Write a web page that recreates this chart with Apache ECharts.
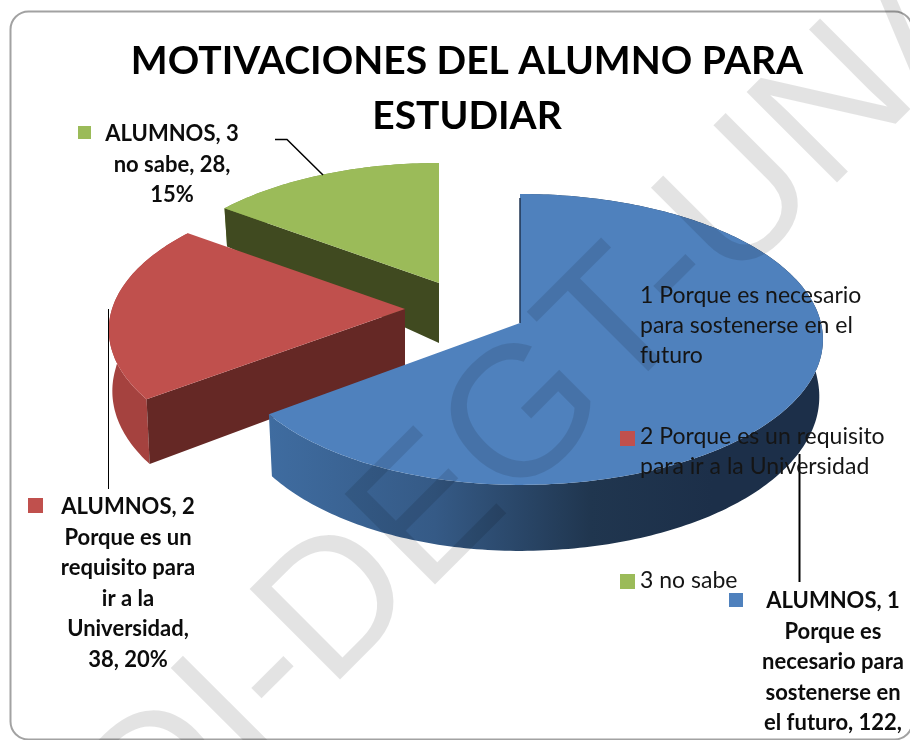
<!DOCTYPE html>
<html>
<head>
<meta charset="utf-8">
<title>Motivaciones del alumno para estudiar</title>
<script src="https://cdn.jsdelivr.net/npm/echarts@6/dist/echarts.min.js"></script>
<style>
  html, body { margin: 0; padding: 0; background: #fff; }
  #chart { width: 910px; height: 740px; }
</style>
</head>
<body>
<div id="chart"></div>
<script>
var categories = ['1 Porque es necesario para sostenerse en el futuro', '2 Porque es un requisito para ir a la Universidad', '3 no sabe'];
var alumnos = [122, 38, 28];
var legendLines = [
  ['1 Porque es necesario', 'para sostenerse en el', 'futuro'],
  ['2 Porque es un requisito', 'para ir a la Universidad'],
  ['3 no sabe']
];
var labelLines = [
  ['ALUMNOS, 1', 'Porque es', 'necesario para', 'sostenerse en', 'el futuro, 122,'],
  ['ALUMNOS, 2', 'Porque es un', 'requisito para', 'ir a la', 'Universidad,', '38, 20%'],
  ['ALUMNOS, 3', 'no sabe, 28,', '15%']
];
var colors = ['#4F81BD', '#C0504D', '#9BBB59'];
var wallColors = ['#1f3552', '#652825', '#404A20'];
var sideColors = ['#3f6ca0', '#A5423F', '#7d9a45'];

// each slice is pulled out on its own, so each has its own apex and perspective
var sliceView = [
  { ax: 520, ay: 323, rx: 301, rxLeft: 291, ry: 143.6, k: 0.113, dMid: 56, dFront: 10, dBack: 30 },
  { ax: 405, ay: 309, rx: 293, rxLeft: 293, ry: 139, k: 0.147, dMid: 60, dFront: 8, dBack: 30 },
  { ax: 439, ay: 283, rx: 287, rxLeft: 287, ry: 135.6, k: 0.13, dMid: 60, dFront: 8, dBack: 37 }
];
var shrink = 0.988;
var total = alumnos.reduce(function (a, b) { return a + b; }, 0);

function topPoint(view, t) {
  var u = Math.sin(t), v = -Math.cos(t);
  var s = 1 / (1 - view.k * v);
  return [view.ax + (u < 0 ? view.rxLeft : view.rx) * u * s, view.ay + view.ry * v * s, v];
}
function bottomPoint(view, p) {
  var d = p[2] < 0 ? view.dMid + view.dBack * p[2] : view.dMid + view.dFront * p[2];
  return [view.ax + (p[0] - view.ax) * shrink, p[1] + d];
}

function renderSlice(params, api) {
  var idx = api.value(1);
  var view = sliceView[idx];
  var before = 0;
  for (var i = 0; i < idx; i++) before += alumnos[i];
  var t0 = before / total * Math.PI * 2;
  var t1 = (before + api.value(0)) / total * Math.PI * 2;

  var arc = [];
  var steps = Math.ceil((t1 - t0) / (Math.PI / 180));
  for (var n = 0; n <= steps; n++) {
    arc.push(topPoint(view, t0 + (t1 - t0) * n / steps));
  }
  var apex = [view.ax, view.ay, 0];
  var apexLow = bottomPoint(view, apex);
  var first = arc[0];

  var sideFill = sideColors[idx];
  if (idx === 0) {
    sideFill = new echarts.graphic.LinearGradient(0, 0, 1, 0, [
      { offset: 0, color: '#3f6ca0' },
      { offset: 0.3, color: '#355a86' },
      { offset: 0.58, color: '#20364f' },
      { offset: 0.8, color: '#1c2f49' },
      { offset: 1, color: '#1c2f49' }
    ]);
  }

  var arcXY = arc.map(function (p) { return [p[0], p[1]]; });
  var lowXY = arc.map(function (p) { return bottomPoint(view, p); }).reverse();
  var children = [
    { type: 'polygon', shape: { points: arcXY.concat(lowXY) }, style: { fill: sideFill } },
    { type: 'polygon', shape: { points: [[first[0], first[1]], [apex[0], apex[1]], apexLow, bottomPoint(view, first)] }, style: { fill: wallColors[idx] } },
    { type: 'polygon', shape: { points: arcXY.concat([[apex[0], apex[1]]]) }, style: { fill: colors[idx] } }
  ];
  if (idx === 0) {
    children.push({ type: 'polyline', shape: { points: [[first[0], first[1] + 4], [apex[0], apex[1]]] }, style: { stroke: '#1f3552', lineWidth: 1.5, fill: 'none' } });
  }
  return { type: 'group', children: children };
}

// draw back to front: green, red, blue
var series = [2, 1, 0].map(function (i) {
  return {
    name: categories[i],
    type: 'custom',
    coordinateSystem: 'none',
    renderItem: renderSlice,
    silent: true,
    data: [[alumnos[i], i]],
    z: 3 - i
  };
});

var font = 'Lato, "Open Sans", sans-serif';
var marks = [];

function addText(lines, x, y, lineStep, opts) {
  lines.forEach(function (line, i) {
    marks.push({
      type: 'text', z: 20,
      style: { text: line, x: x, y: y + lineStep * i, fill: opts.fill, font: opts.font, align: opts.align, verticalAlign: 'middle' }
    });
  });
}
function addSquare(x, y, w, color) {
  marks.push({ type: 'rect', z: 20, shape: { x: x, y: y, width: w, height: w }, style: { fill: color } });
}
function addLeader(points, width) {
  marks.push({ type: 'polyline', z: 19, shape: { points: points }, style: { stroke: '#000', lineWidth: width, fill: 'none' } });
}

// chart frame
marks.push({ type: 'rect', z: 0, shape: { x: 10.5, y: 11.5, width: 902, height: 728, r: 18 }, style: { fill: '#fff', stroke: '#a2a2a2', lineWidth: 2 } });

// legend
var legendFont = '23px ' + font;
addSquare(620, 289, 15, colors[0]);
addSquare(620, 431, 15, colors[1]);
addSquare(620, 574, 15, colors[2]);
addText(legendLines[0], 640, 296, 30, { fill: '#151515', font: legendFont, align: 'left' });
addText(legendLines[1], 640, 437, 30, { fill: '#151515', font: legendFont, align: 'left' });
addText(legendLines[2], 640, 581, 30, { fill: '#151515', font: legendFont, align: 'left' });

// data labels with leader lines
var labelFont = 'bold 22px ' + font;
addSquare(729, 593, 14, colors[0]);
addSquare(28, 498, 15, colors[1]);
addSquare(78, 126, 13, colors[2]);
addText(labelLines[0], 833, 601, 30.6, { fill: '#0c0c0c', font: labelFont, align: 'center' });
addText(labelLines[1], 128, 507, 30.5, { fill: '#0c0c0c', font: labelFont, align: 'center' });
addText(labelLines[2], 172, 134, 30.5, { fill: '#0c0c0c', font: labelFont, align: 'center' });
addLeader([[799.5, 454], [799.5, 582]], 2);
addLeader([[108.5, 309], [108.5, 489]], 1);
addLeader([[275, 139.5], [287, 139.5], [323, 175]], 1.5);

// watermark lies over everything
marks.push({
  type: 'text', z: 30, silent: true,
  x: 600, y: 347, rotation: Math.PI / 4,
  style: { text: 'DI-DEGT-UNAM', fill: 'rgba(0,0,0,0.11)', font: '186px "Liberation Sans", sans-serif', align: 'center', verticalAlign: 'middle' }
});

var chart = echarts.init(document.getElementById('chart'), null, { renderer: 'canvas' });
chart.setOption({
  animation: false,
  title: {
    text: 'MOTIVACIONES DEL ALUMNO PARA\nESTUDIAR',
    left: 462, top: 29, textAlign: 'center',
    textStyle: { fontFamily: font, fontWeight: 'bold', fontSize: 39, color: '#000', lineHeight: 55 }
  },
  series: series,
  graphic: { elements: marks }
});
</script>
</body>
</html>
